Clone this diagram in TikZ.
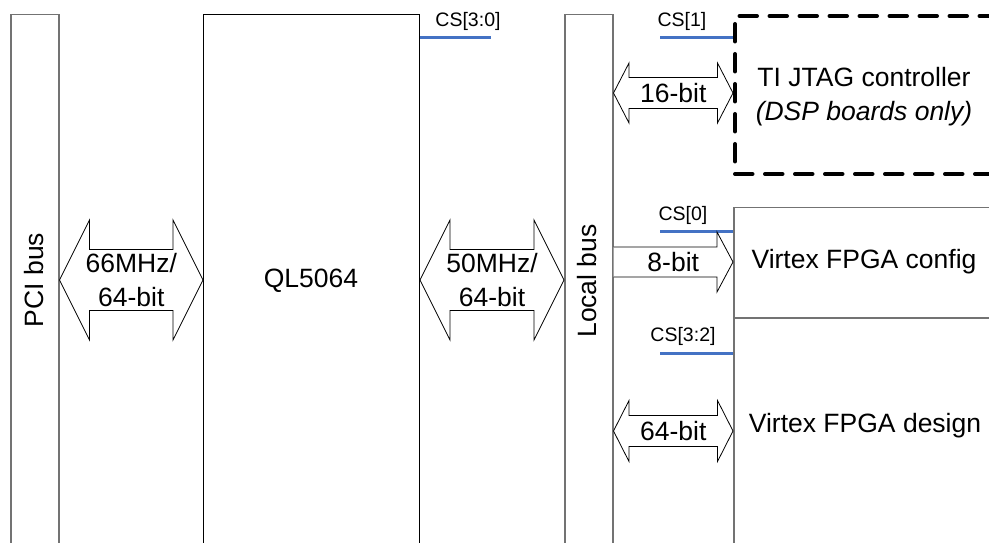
\documentclass[tikz,border=0pt]{standalone}
\usepackage{fontspec}
\setmainfont{Liberation Sans}
\usetikzlibrary{calc}
\pgfdeclarelayer{bg}
\pgfsetlayers{bg,main}
\definecolor{csblue}{RGB}{68,114,196}
\newcommand\dblarrow[5]{\draw[fatarrow] (#1) -- ([shift={(#3,#4)}]#1) -- ([shift={(#3,#5)}]#1) -- ([shift={(-#3,#5)}]#2) -- ([shift={(-#3,#4)}]#2) -- (#2) -- ([shift={(-#3,-#4)}]#2) -- ([shift={(-#3,-#5)}]#2) -- ([shift={(#3,-#5)}]#1) -- ([shift={(#3,-#4)}]#1) -- cycle;}
\newcommand\sglarrow[5]{\draw[fatarrow] ([shift={(0,#5)}]#1) -- ([shift={(-#3,#5)}]#2) -- ([shift={(-#3,#4)}]#2) -- (#2) -- ([shift={(-#3,-#4)}]#2) -- ([shift={(-#3,-#5)}]#2) -- ([shift={(0,-#5)}]#1);}
\begin{document}
\begin{tikzpicture}[x=1pt,y=1pt,
  graybox/.style={draw=black!55, line width=1.5pt, inner sep=0pt, anchor=north west},
  blackbox/.style={draw=black, line width=1pt, inner sep=0pt, anchor=north west},
  dashbox/.style={draw=black, line width=4pt, dash pattern=on 17.5pt off 12.5pt, line cap=round, inner sep=0pt, anchor=north west},
  cssig/.style={draw=csblue, line width=3pt},
  cslabel/.style={font=\fontsize{19.5}{22}\selectfont, inner sep=0pt},
  txt/.style={font=\fontsize{26.5}{34}\selectfont, align=center, inner sep=0pt},
  fatarrow/.style={draw=black, line width=0.8pt, fill=white, line join=miter}]
\useasboundingbox (0,0) rectangle (989,542);
\clip (0,0) rectangle (989,542);
% boxes
\node[graybox, minimum width=48pt, minimum height=600pt] (pci) at (10,528) {};
\node[blackbox, minimum width=216pt, minimum height=600pt] (ql) at (203,528) {};
\node[graybox, minimum width=48pt, minimum height=600pt] (lbus) at (564,528) {};
\node[dashbox, minimum width=262pt, minimum height=158pt] (jtag) at (733,528) {};
\node[graybox, minimum width=262pt, minimum height=110pt] (vcfg) at (733,335) {};
\node[graybox, minimum width=262pt, minimum height=600pt] (vdes) at (733,225) {};
% box texts
\node[txt, rotate=90] (pcit) at (34,262) {PCI bus};
\node[txt] (qlt) at (311,261) {QL5064};
\node[txt, rotate=90] (lbust) at (587,261) {Local bus};
\node[txt] (jtagt) at (864,445) {TI JTAG controller\\\textit{(DSP boards only)}};
\node[txt] (vcfgt) at (864,280) {Virtex FPGA config};
\node[txt] (vdest) at (865,116) {Virtex FPGA design};
% chip select lines
\coordinate (cs30end) at (491,504);
\coordinate (cs1start) at (660,504);
\coordinate (cs0start) at (660,310);
\coordinate (cs32start) at (660,189);
\begin{pgfonlayer}{bg}
\draw[cssig] (cs30end -| ql.east) -- (cs30end);
\draw[cssig] (cs1start) -- (cs1start -| jtag.west);
\draw[cssig] (cs0start) -- (cs0start -| vcfg.west);
\draw[cssig] (cs32start) -- (cs32start -| vdes.west);
\end{pgfonlayer}
\node[cslabel] (cs30l) at (468,521) {CS[3:0]};
\node[cslabel] (cs1l) at (682,521) {CS[1]};
\node[cslabel] (cs0l) at (683,327) {CS[0]};
\node[cslabel] (cs32l) at (683,206) {CS[3:2]};
% fat arrows
\coordinate (ybig) at (0,262);
\coordinate (a66l) at (pci.east |- ybig);
\coordinate (a66r) at (ql.west |- ybig);
\coordinate (a50l) at (ql.east |- ybig);
\coordinate (a50r) at (lbus.west |- ybig);
\dblarrow{a66l}{a66r}{30}{60}{30.5}
\dblarrow{a50l}{a50r}{30}{60}{30.5}
\node[txt] (a66t) at ($(a66l)!0.5!(a66r)$) {66MHz/\\64-bit};
\node[txt] (a50t) at ($(a50l)!0.5!(a50r)$) {50MHz/\\64-bit};
% small arrows
\coordinate (y16) at (0,449);
\coordinate (a16l) at (lbus.east |- y16);
\coordinate (a16r) at (jtag.west |- y16);
\dblarrow{a16l}{a16r}{15.5}{30}{15.5}
\node[txt] (a16t) at ($(a16l)!0.5!(a16r)$) {16-bit};
\coordinate (y8) at (0,280);
\coordinate (a8l) at (lbus.east |- y8);
\coordinate (a8r) at (vcfg.west |- y8);
\sglarrow{a8l}{a8r}{16}{30}{15}
\node[txt] (a8t) at ($(a8l)!0.5!(a8r)$) {8-bit};
\coordinate (y64) at (0,111);
\coordinate (a64l) at (lbus.east |- y64);
\coordinate (a64r) at (vdes.west |- y64);
\dblarrow{a64l}{a64r}{15.5}{30.5}{15.5}
\node[txt] (a64t) at ($(a64l)!0.5!(a64r)$) {64-bit};
\end{tikzpicture}
\end{document}
